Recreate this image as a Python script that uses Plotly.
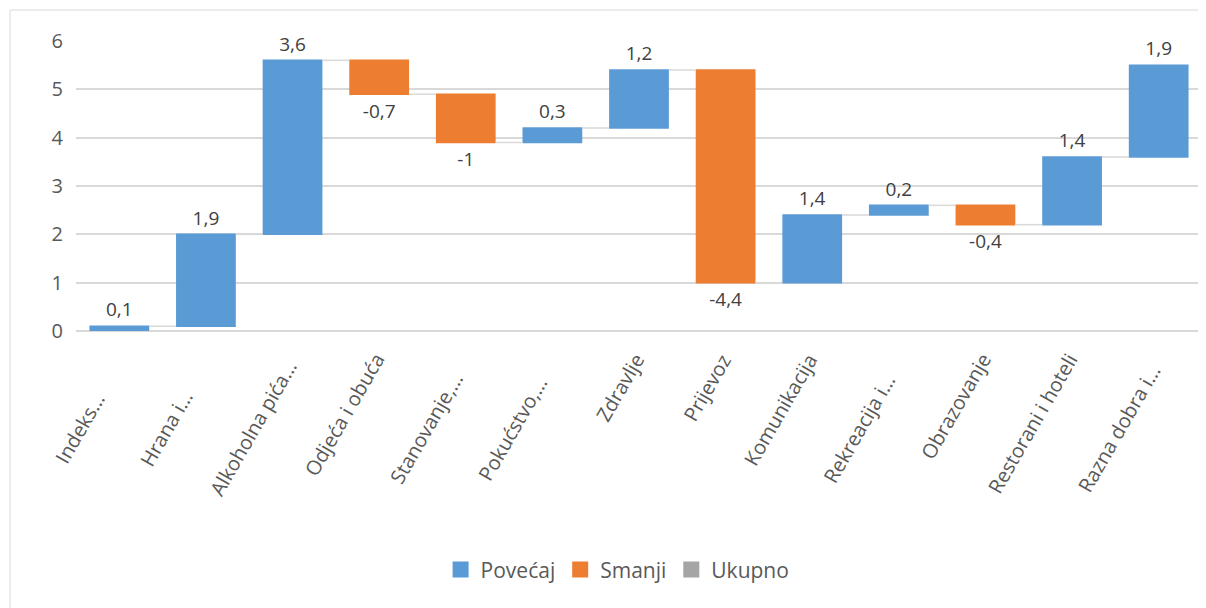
import plotly.graph_objects as go

categories = ["Indeks…", "Hrana i…", "Alkoholna pića…", "Odjeća i obuća", "Stanovanje,…",
              "Pokućstvo,…", "Zdravlje", "Prijevoz", "Komunikacija", "Rekreacija i…",
              "Obrazovanje", "Restorani i hoteli", "Razna dobra i…"]
changes = [0.1, 1.9, 3.6, -0.7, -1, 0.3, 1.2, -4.4, 1.4, 0.2, -0.4, 1.4, 1.9]
legend_names = ["Povećaj", "Smanji", "Ukupno"]
legend_colors = ["#5B9BD5", "#ED7D31", "#A5A5A5"]

def fmt(v):
    return ("%g" % v).replace(".", ",")

labels = [fmt(v) for v in changes]

FONT = "Open Sans"
W, H = 1198, 600
L, T, PW, PH = 68, 33, 1126, 290

fig = go.Figure()
fig.add_trace(go.Waterfall(
    x=categories, y=changes, measure=["relative"] * len(changes),
    text=labels, textposition="outside", cliponaxis=False,
    textfont=dict(family=FONT, size=19, color="#404040"),
    increasing=dict(marker=dict(color=legend_colors[0])),
    decreasing=dict(marker=dict(color=legend_colors[1])),
    totals=dict(marker=dict(color=legend_colors[2])),
    connector=dict(line=dict(color="#D9D9D9", width=1.5)),
    showlegend=False, hoverinfo="skip",
))
for name, col in zip(legend_names, legend_colors):
    fig.add_trace(go.Scatter(x=[None], y=[None], mode="markers", name=name,
                             marker=dict(symbol="square", size=20, color=col)))

# category labels (Excel style: truncated labels centred, full labels top-aligned)
annotations = []
for c in categories:
    if c.endswith("…"):
        annotations.append(dict(x=c, y=0, xref="x", yref="y", text=c, showarrow=False,
                                textangle=-60, xanchor="center", yanchor="middle",
                                xshift=-40, yshift=-97,
                                font=dict(family=FONT, size=20, color="#595959")))
    else:
        annotations.append(dict(x=c, y=0, xref="x", yref="y", text=c, showarrow=False,
                                textangle=-60, xanchor="right", yanchor="top",
                                xshift=14, yshift=-15,
                                font=dict(family=FONT, size=20, color="#595959")))

fig.update_layout(
    width=W, height=H,
    margin=dict(l=L, r=W - L - PW, t=T, b=H - T - PH),
    paper_bgcolor="white", plot_bgcolor="white",
    waterfallgap=0.31,
    font=dict(family=FONT, size=19, color="#595959"),
    showlegend=True,
    legend=dict(orientation="h", x=0.481, xanchor="center", y=-0.824, yanchor="middle",
                font=dict(family=FONT, size=21, color="#595959"), itemwidth=30),
    xaxis=dict(range=[-0.5, len(categories) - 0.5], autorange=False,
               showticklabels=False, showgrid=False, showline=False, ticks=""),
    yaxis=dict(range=[0, 6], autorange=False, dtick=1, showgrid=True, gridcolor="#D9D9D9", gridwidth=1.5,
               zeroline=True, zerolinecolor="#D9D9D9", zerolinewidth=1.5,
               ticks="", ticklabelstandoff=12,
               tickfont=dict(family=FONT, size=20, color="#595959")),
    annotations=annotations,
    shapes=[dict(type="rect", xref="paper", yref="paper",
                 x0=(2 - L) / PW, x1=(1230 - L) / PW,
                 y0=-(640 - T - PH) / PH, y1=(T + PH - 2) / PH,
                 line=dict(color="#D9D9D9", width=1), fillcolor="rgba(0,0,0,0)", layer="below")],
)
fig.write_html("out.html")
